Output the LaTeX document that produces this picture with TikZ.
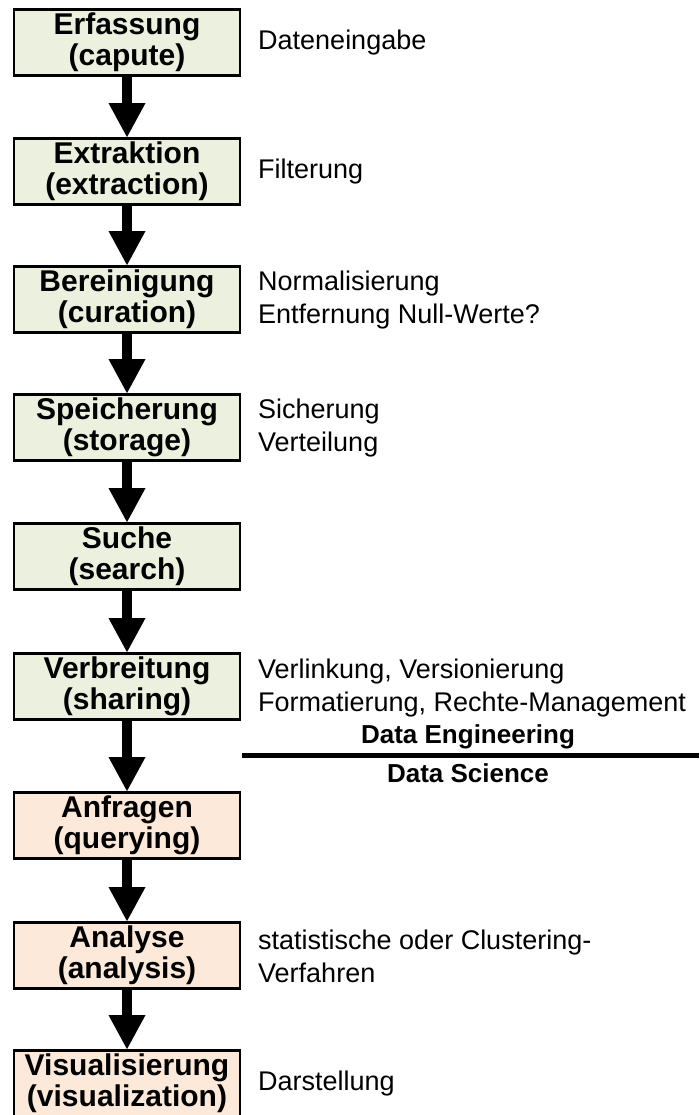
\documentclass[tikz,border=0pt]{standalone}
\usepackage{fontspec}
\setmainfont{Liberation Sans}
\usetikzlibrary{arrows.meta}
\definecolor{engfill}{HTML}{EBF1DE}
\definecolor{scifill}{HTML}{FDE9D9}
\begin{document}
\begin{tikzpicture}[x=1pt,y=-1pt,
  box/.style={draw=black, line width=2.8pt, minimum width=226pt, minimum height=66pt,
    inner sep=0pt, align=center, font=\fontsize{30}{31}\selectfont\bfseries},
  eng/.style={box, fill=engfill},
  sci/.style={box, fill=scifill},
  side/.style={anchor=west, inner sep=0pt, align=left, font=\fontsize{27}{33}\selectfont},
  flow/.style={line width=10pt, -{Triangle[width=37pt,length=34pt,line width=0pt]}},
  lbl/.style={font=\fontsize{26}{30}\selectfont\bfseries, anchor=base, inner sep=0pt}]
\useasboundingbox (0,0) rectangle (699,1115);

\node[eng] (b1) at (127,42.5)  {Erfassung\\(capute)};
\node[eng] (b2) at (127,171.5) {Extraktion\\(extraction)};
\node[eng] (b3) at (127,299.5) {Bereinigung\\(curation)};
\node[eng] (b4) at (127,427.5) {Speicherung\\(storage)};
\node[eng] (b5) at (127,556.5) {Suche\\(search)};
\node[eng] (b6) at (127,686.5) {Verbreitung\\(sharing)};
\node[sci] (b7) at (127,825.5) {Anfragen\\(querying)};
\node[sci] (b8) at (127,955.5) {Analyse\\(analysis)};
\node[sci] (b9) at (127,1083.5) {Visualisierung\\(visualization)};

\foreach \a/\b in {b1/b2,b2/b3,b3/b4,b4/b5,b5/b6,b6/b7,b7/b8,b8/b9}
  \draw[flow] (\a.south) -- (\b.north);

\node[side] (s1) at (258,42.5)  {Dateneingabe};
\node[side] (s2) at (258,171.5) {Filterung};
\node[side] (s3) at (258,300.5) {Normalisierung\\Entfernung Null-Werte?};
\node[side] (s4) at (258,428.5) {Sicherung\\Verteilung};
\node[side] (s6) at (258,688) {Verlinkung, Versionierung\\Formatierung, Rechte-Management};
\node[side] (s8) at (258,956.5) {statistische oder Clustering-\\Verfahren};
\node[side] (s9) at (258,1083.5) {Darstellung};

\coordinate (l1) at (242,755);
\coordinate (l2) at (699,755);
\draw[line width=5pt] (l1) -- (l2);
\node[lbl] (de) at (468,743) {Data Engineering};
\node[lbl] (ds) at (468,782) {Data Science};
\end{tikzpicture}
\end{document}
